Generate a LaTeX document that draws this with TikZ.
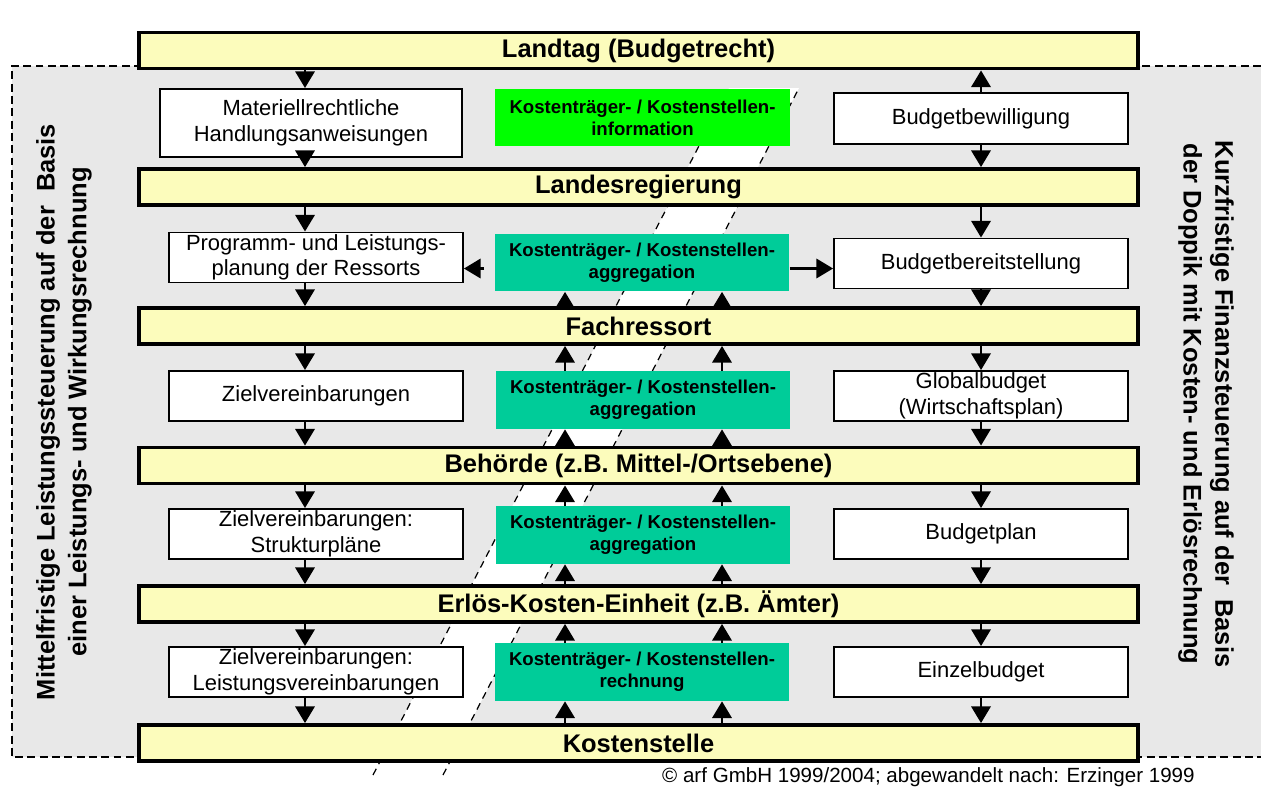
\documentclass[tikz,border=0pt]{standalone}
\usepackage{fontspec}
\setmainfont{Liberation Sans}
\usepackage{tikz}
\usetikzlibrary{arrows.meta, positioning, calc}
\usepackage{xcolor}

\definecolor{barfill}{RGB}{252,252,188}
\definecolor{zonegrey}{RGB}{232,232,232}
\definecolor{infogreen}{RGB}{0,255,0}
\definecolor{agggreen}{RGB}{0,204,153}

\begin{document}
\begin{tikzpicture}[x=0.02cm, y=-0.02cm,
                >={Triangle[length=9.5pt,width=11pt]},
                bar/.style={rectangle, draw=black, line width=2.2pt, fill=barfill, minimum width=19.98cm, minimum height=0.72cm, inner sep=0pt, font=\fontsize{14.5}{17}\selectfont\bfseries},
                textbox/.style={rectangle, draw=black, line width=1.1pt, fill=white, minimum width=5.88cm, minimum height=1.0cm, inner sep=1pt, align=center, font=\fontsize{12.5}{14.5}\selectfont},
                costbox/.style={rectangle, fill=agggreen, minimum width=5.9cm, minimum height=1.16cm, inner sep=1pt, align=center, font=\fontsize{10.6}{12.5}\selectfont\bfseries},
                flow/.style={->, line width=1.4pt},
                sidetext/.style={align=center, font=\fontsize{14.5}{18}\selectfont\bfseries}
                ]

                \useasboundingbox (0,0) rectangle (1261,788);

                % Zone
                \fill[zonegrey] (12,66) rectangle (1261,757);
                \draw[line width=0.9pt, dash pattern=on 4.5pt off 2.5pt] (1261,66) -- (12,66) -- (12,757) -- (1261,757);

                % Band
                \fill[white] (373,775) -- (443,775) -- (799,88) -- (729,88) -- cycle;
                \draw[line width=0.7pt, dash pattern=on 4pt off 3pt] (373,775) -- (729,88);
                \draw[line width=0.7pt, dash pattern=on 4pt off 3pt] (443,775) -- (799,88);

                % Columns
                \coordinate (cl) at (305,0);
                \coordinate (cm1) at (565,0);
                \coordinate (cm2) at (722,0);
                \coordinate (cr) at (981,0);

                % Nodes
                \node[bar] (land) at (638.5,50.5) {Landtag (Budgetrecht)};
                \node[bar] (lreg) at (638.5,187) {Landesregierung};
                \node[bar] (fach) at (638.5,326) {Fachressort};
                \node[bar] (behoerde) at (638.5,465.5) {Behörde (z.B. Mittel-/Ortsebene)};
                \node[bar] (erloes) at (638.5,604) {Erlös-Kosten-Einheit (z.B. Ämter)};
                \node[bar] (kst) at (638.5,743) {Kostenstelle};

                \node[textbox, minimum width=6.04cm, minimum height=1.36cm] (mat) at (311,123) {Materiellrechtliche\\Handlungsanweisungen};
                \node[textbox] (prog) at (316,257.5) {Programm- und Leistungs-\\planung der Ressorts};
                \node[textbox] (ziel1) at (316,396) {Zielvereinbarungen};
                \node[textbox] (ziel2) at (316,534) {Zielvereinbarungen:\\Strukturpläne};
                \node[textbox] (ziel3) at (316,672) {Zielvereinbarungen:\\Leistungsvereinbarungen};

                \node[costbox, fill=infogreen] (info) at (642.5,117.5) {Kostenträger- / Kostenstellen-\\information};
                \node[costbox] (agg1) at (642,262.5) {Kostenträger- / Kostenstellen-\\aggregation};
                \node[costbox] (agg2) at (643,400) {Kostenträger- / Kostenstellen-\\aggregation};
                \node[costbox] (agg3) at (643,535) {Kostenträger- / Kostenstellen-\\aggregation};
                \node[costbox] (rech) at (642,672) {Kostenträger- / Kostenstellen-\\rechnung};

                \node[textbox, minimum height=1.02cm] (bew) at (981,118.5) {Budgetbewilligung};
                \node[textbox] (bereit) at (981,263.5) {Budgetbereitstellung};
                \node[textbox] (global) at (981,396) {Globalbudget\\(Wirtschaftsplan)};
                \node[textbox] (plan) at (981,534) {Budgetplan};
                \node[textbox] (einzel) at (981,672) {Einzelbudget};

                \node[sidetext, rotate=90] (mittel) at (64,412) {Mittelfristige Leistungssteuerung auf der~\ Basis\\einer Leistungs- und Wirkungsrechnung};
                \node[sidetext, rotate=-90] (kurz) at (1206,404) {Kurzfristige Finanzsteuerung auf der~\ Basis\\der Doppik mit Kosten- und Erlösrechnung};

                \node[anchor=east, inner sep=0pt, font=\fontsize{11.7}{13}\selectfont] (quelle) at (1195,777) {© arf GmbH 1999/2004; abgewandelt nach: Erzinger 1999};

                % Paths
                \foreach \a/\b in {land/mat, mat/lreg, lreg/prog, prog/fach, fach/ziel1, ziel1/behoerde, behoerde/ziel2, ziel2/erloes, erloes/ziel3, ziel3/kst}
                    \draw[flow] (\a.south -| cl) -- (\b.north -| cl);
                \foreach \a/\b in {bew/lreg, lreg/bereit, bereit/fach, fach/global, global/behoerde, behoerde/plan, plan/erloes, erloes/einzel, einzel/kst}
                    \draw[flow] (\a.south -| cr) -- (\b.north -| cr);
                \draw[flow] (bew.north -| cr) -- (land.south -| cr);
                \foreach \a/\b in {fach/agg1, agg2/fach, behoerde/agg2, agg3/behoerde, erloes/agg3, rech/erloes, kst/rech} {
                    \draw[flow] (\a.north -| cm1) -- (\b.south -| cm1);
                    \draw[flow] (\a.north -| cm2) -- (\b.south -| cm2);
                }
                \coordinate (aggl) at ($(agg1.west)+(0,6)$);
                \coordinate (aggr) at ($(agg1.east)+(0,6)$);
                \draw[flow, shorten <=0.2cm] (aggl) -- (aggl -| prog.east);
                \draw[flow] (aggr) -- (aggr -| bereit.west);
\end{tikzpicture}
\end{document}
